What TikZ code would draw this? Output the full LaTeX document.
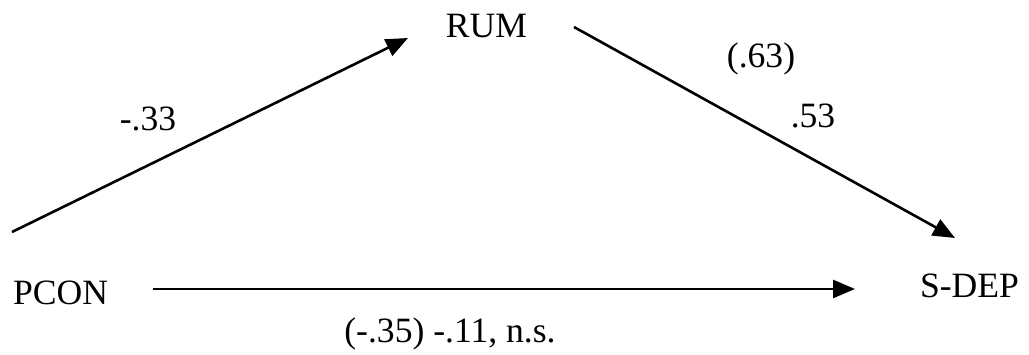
\documentclass[tikz,border=0pt]{standalone}
\usepackage{fontspec}
\setmainfont{Liberation Serif}
\usetikzlibrary{arrows.meta}

\begin{document}
\begin{tikzpicture}[
        x=0.5pt, y=-0.5pt,
        var/.style={inner sep=0pt, anchor=base, font=\fontsize{17.8}{20}\selectfont},
        coef/.style={inner sep=0pt, anchor=base, font=\fontsize{17.8}{20}\selectfont},
        arrow/.style={-{Triangle[length=11pt, width=9pt]}, line width=1.3pt}
    ]
        \useasboundingbox (0,0) rectangle (1029,354);

        % variables
        \node[var] (pcon) at (60.5,304) {PCON};
        \node[var] (rum) at (486.5,37) {RUM};
        \node[var] (sdep) at (969.5,297) {S-DEP};

        % ends of the paths
        \coordinate (pcon-up) at (12,232);
        \coordinate (rum-in) at (408,38);
        \coordinate (rum-out) at (574,27);
        \coordinate (sdep-in) at (955,238);
        \coordinate (pcon-out) at (153,289);
        \coordinate (sdep-left) at (855,289);

        \draw[arrow] (pcon-up) -- (rum-in);
        \draw[arrow] (rum-out) -- (sdep-in);
        \draw[arrow] (pcon-out) -- (sdep-left);

        % path coefficients
        \node[coef] (c-a) at (148,130) {-.33};
        \node[coef] (c-b-tot) at (761,67) {(.63)};
        \node[coef] (c-b) at (813,127) {.53};
        \node[coef] (c-c) at (450,342) {(-.35) -.11, n.s.};
    \end{tikzpicture}
\end{document}
